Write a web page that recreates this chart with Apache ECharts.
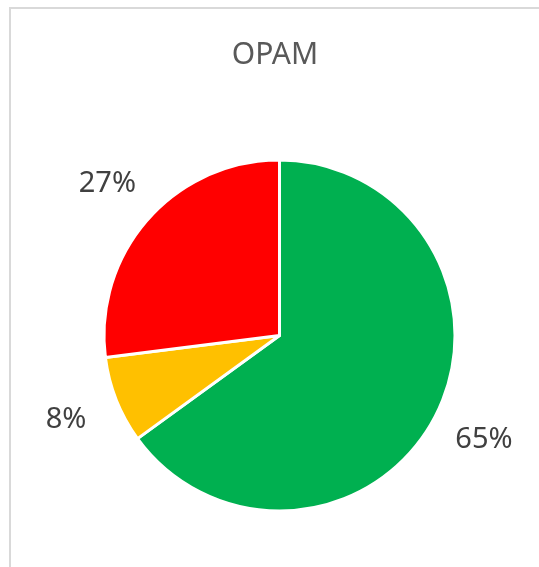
<!DOCTYPE html>
<html>
<head>
<meta charset="utf-8">
<script src="https://cdn.jsdelivr.net/npm/echarts@6/dist/echarts.min.js"></script>
<style>
  html, body { margin: 0; padding: 0; background: #fff; }
  #chart { width: 539px; height: 567px; }
</style>
</head>
<body>
<div id="chart"></div>
<script>
  // slice data, clockwise from 12 o'clock
  const categories = ['Green', 'Amber', 'Red'];
  const values = [65, 8, 27];
  const colors = ['#00B050', '#FFC000', '#FF0000'];

  const myChart = echarts.init(document.getElementById('chart'));
  const option = {
    backgroundColor: '#fff',
    animation: false,
    graphic: [{
      type: 'rect',
      shape: { x: 10, y: 8, width: 700, height: 700 },
      style: { fill: 'none', stroke: '#d9d9d9', lineWidth: 2 },
      silent: true
    }],
    title: {
      text: 'OPAM',
      left: 270,
      top: 35,
      textAlign: 'center',
      textStyle: {
        fontFamily: 'Noto Sans',
        fontSize: 30,
        fontWeight: 'normal',
        color: '#595959'
      }
    },
    series: [{
      type: 'pie',
      center: [279.5, 335.5],
      radius: 175.5,
      startAngle: 90,
      clockwise: true,
      avoidLabelOverlap: false,
      itemStyle: { borderColor: '#fff', borderWidth: 3 },
      label: {
        show: true,
        position: 'outside',
        formatter: '{d}%',
        distanceToLabelLine: 0,
        fontFamily: 'Noto Sans',
        fontSize: 29,
        color: '#404040'
      },
      labelLine: { show: false, length: 54, length2: 0 },
      labelLayout: { align: 'center' },
      emphasis: { disabled: true },
      data: categories.map((c, i) => ({
        name: c,
        value: values[i],
        itemStyle: { color: colors[i] }
      }))
    }]
  };
  myChart.setOption(option);
</script>
</body>
</html>
